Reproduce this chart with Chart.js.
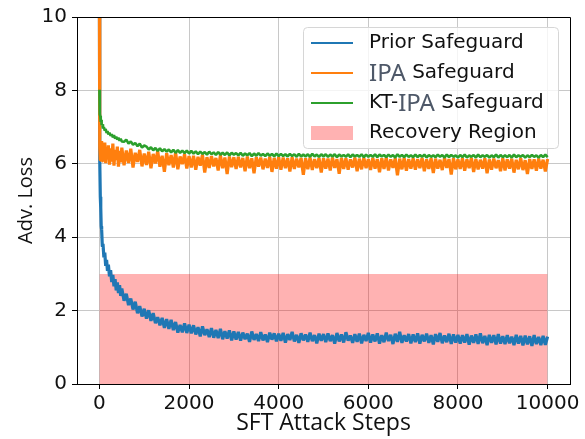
<!DOCTYPE html>
<html>
<head>
<meta charset="utf-8">
<script src="https://cdn.jsdelivr.net/npm/chart.js@4.4.1/dist/chart.umd.min.js"></script>
<style>
  html, body { margin: 0; padding: 0; background: #fff; }
  canvas { display: block; }
</style>
</head>
<body>
<canvas id="lossChart" width="585" height="439"></canvas>
<script>
// SFT attack steps (x positions)
var steps = [
  0, 5, 10, 20, 30, 40, 50, 65, 80, 100, 120, 140, 160, 180, 200, 225, 250, 275, 300, 325, 350, 375, 400, 425, 450, 475, 500,
  550, 600, 650, 700, 750, 800, 850, 900, 950, 1000,
  1050, 1100, 1150, 1200, 1250, 1300, 1350, 1400, 1450, 1500, 1550, 1600, 1650, 1700, 1750, 1800, 1850, 1900, 1950, 2000,
  2050, 2100, 2150, 2200, 2250, 2300, 2350, 2400, 2450, 2500, 2550, 2600, 2650, 2700, 2750, 2800, 2850, 2900, 2950, 3000,
  3050, 3100, 3150, 3200, 3250, 3300, 3350, 3400, 3450, 3500, 3550, 3600, 3650, 3700, 3750, 3800, 3850, 3900, 3950, 4000,
  4050, 4100, 4150, 4200, 4250, 4300, 4350, 4400, 4450, 4500, 4550, 4600, 4650, 4700, 4750, 4800, 4850, 4900, 4950, 5000,
  5050, 5100, 5150, 5200, 5250, 5300, 5350, 5400, 5450, 5500, 5550, 5600, 5650, 5700, 5750, 5800, 5850, 5900, 5950, 6000,
  6050, 6100, 6150, 6200, 6250, 6300, 6350, 6400, 6450, 6500, 6550, 6600, 6650, 6700, 6750, 6800, 6850, 6900, 6950, 7000,
  7050, 7100, 7150, 7200, 7250, 7300, 7350, 7400, 7450, 7500, 7550, 7600, 7650, 7700, 7750, 7800, 7850, 7900, 7950, 8000,
  8050, 8100, 8150, 8200, 8250, 8300, 8350, 8400, 8450, 8500, 8550, 8600, 8650, 8700, 8750, 8800, 8850, 8900, 8950, 9000,
  9050, 9100, 9150, 9200, 9250, 9300, 9350, 9400, 9450, 9500, 9550, 9600, 9650, 9700, 9750, 9800, 9850, 9900, 9950, 10000
];

// Prior Safeguard
var priorLoss = [
  10.8, 7.3, 6.1, 5.1, 4.8, 4.3, 4.2, 3.75, 3.82, 3.45, 3.58, 3.22, 3.38, 3.08, 3.25, 2.93, 3.1, 2.78, 2.97, 2.66, 2.86, 2.55, 2.77, 2.48, 2.69, 2.40, 2.60,
  2.27, 2.46, 2.15, 2.33, 2.03, 2.24, 1.93, 2.12, 1.84, 2.05,
  1.78, 2.01, 1.72, 1.93, 1.66, 1.82, 1.60, 1.80, 1.53, 1.77, 1.50, 1.75, 1.47, 1.69, 1.40, 1.61, 1.41, 1.65, 1.39, 1.62,
  1.38, 1.60, 1.35, 1.55, 1.30, 1.57, 1.33, 1.49, 1.28, 1.52, 1.26, 1.47, 1.25, 1.50, 1.22, 1.44, 1.24, 1.46, 1.19, 1.43,
  1.21, 1.42, 1.18, 1.40, 1.22, 1.37, 1.15, 1.43, 1.20, 1.36, 1.17, 1.41, 1.19, 1.35, 1.14, 1.40, 1.21, 1.38, 1.16, 1.37,
  1.18, 1.39, 1.13, 1.36, 1.20, 1.42, 1.16, 1.34, 1.12, 1.38, 1.19, 1.35, 1.15, 1.40, 1.17, 1.33, 1.11, 1.37, 1.18, 1.36,
  1.14, 1.38, 1.17, 1.33, 1.10, 1.39, 1.16, 1.35, 1.13, 1.41, 1.18, 1.32, 1.12, 1.36, 1.15, 1.37, 1.11, 1.34, 1.17, 1.39,
  1.13, 1.35, 1.16, 1.38, 1.10, 1.33, 1.14, 1.40, 1.17, 1.34, 1.09, 1.37, 1.15, 1.42, 1.12, 1.33, 1.16, 1.36, 1.11, 1.35,
  1.14, 1.38, 1.10, 1.34, 1.16, 1.37, 1.12, 1.33, 1.08, 1.36, 1.15, 1.39, 1.11, 1.32, 1.14, 1.37, 1.09, 1.35, 1.13, 1.34,
  1.10, 1.33, 1.13, 1.36, 1.07, 1.32, 1.12, 1.35, 1.09, 1.38, 1.11, 1.31, 1.06, 1.34, 1.12, 1.33, 1.08, 1.36, 1.10, 1.30,
  1.09, 1.33, 1.11, 1.29, 1.06, 1.34, 1.10, 1.31, 1.05, 1.32, 1.08, 1.30, 1.04, 1.33, 1.09, 1.28, 1.06, 1.31, 1.07, 1.29
];

// IPA Safeguard
var ipaLoss = [
  10.8, 7.6, 6.45, 6.1, 6.55, 6.2, 6.62, 6.08, 6.48, 6.15, 6.58, 6.02, 6.45, 6.12, 6.5, 5.98, 6.42, 6.06, 6.55, 5.95, 6.38, 6.1, 6.47, 5.92, 6.35, 6.04, 6.44,
  5.96, 6.36, 6.02, 6.41, 5.9, 6.3, 6.05, 6.38, 5.93, 6.28,
  5.97, 6.33, 5.88, 6.27, 6.01, 6.35, 5.92, 6.22, 5.78, 6.29, 5.96, 6.24, 5.90, 6.31, 5.85, 6.2, 5.99, 6.26, 5.87, 6.21,
  5.9, 6.22, 5.84, 6.19, 5.95, 6.25, 5.76, 6.18, 5.89, 6.21, 5.93, 6.16, 5.82, 6.23, 5.88, 6.17, 5.72, 6.2, 5.91, 6.18,
  5.86, 6.19, 5.9, 6.16, 5.8, 6.2, 5.88, 6.15, 5.74, 6.18, 5.92, 6.17, 5.85, 6.14, 5.89, 6.19, 5.78, 6.16, 5.87, 6.18,
  5.84, 6.17, 5.88, 6.15, 5.79, 6.18, 5.86, 6.14, 5.9, 6.16, 5.7, 6.15, 5.85, 6.17, 5.83, 6.13, 5.88, 6.16, 5.76, 6.15,
  5.87, 6.14, 5.82, 6.17, 5.89, 6.13, 5.73, 6.16, 5.86, 6.15, 5.84, 6.12, 5.9, 6.17, 5.8, 6.14, 5.85, 6.16, 5.88, 6.13,
  5.83, 6.16, 5.87, 6.13, 5.77, 6.15, 5.86, 6.17, 5.82, 6.12, 5.89, 6.15, 5.69, 6.14, 5.85, 6.16, 5.81, 6.13, 5.87, 6.15,
  5.84, 6.13, 5.88, 6.16, 5.8, 6.12, 5.86, 6.15, 5.75, 6.14, 5.87, 6.11, 5.83, 6.16, 5.89, 6.13, 5.71, 6.15, 5.85, 6.12,
  5.86, 6.15, 5.81, 6.12, 5.88, 6.16, 5.78, 6.13, 5.85, 6.11, 5.87, 6.15, 5.74, 6.12, 5.84, 6.14, 5.88, 6.1, 5.8, 6.15,
  5.82, 6.12, 5.87, 6.14, 5.76, 6.11, 5.85, 6.15, 5.83, 6.1, 5.72, 6.13, 5.86, 6.12, 5.81, 6.14, 5.87, 6.11, 5.79, 6.13
];

// KT-IPA Safeguard
var ktIpaLoss = [
  8.02, 7.6, 7.35, 7.3, 7.14, 7.2, 7.05, 7.08, 6.96, 7.0, 6.9, 6.95, 6.84, 6.89, 6.8, 6.85, 6.76, 6.81, 6.72, 6.78, 6.69, 6.74, 6.66, 6.71, 6.63, 6.68, 6.61,
  6.6, 6.66, 6.55, 6.61, 6.52, 6.57, 6.48, 6.55, 6.44, 6.5,
  6.47, 6.39, 6.45, 6.37, 6.43, 6.35, 6.42, 6.34, 6.4, 6.33, 6.39, 6.31, 6.38, 6.3, 6.37, 6.3, 6.36, 6.29, 6.36, 6.28,
  6.35, 6.28, 6.34, 6.26, 6.33, 6.27, 6.32, 6.25, 6.33, 6.26, 6.31, 6.24, 6.32, 6.25, 6.3, 6.24, 6.31, 6.23, 6.3, 6.25,
  6.29, 6.23, 6.3, 6.22, 6.28, 6.23, 6.29, 6.21, 6.28, 6.22, 6.29, 6.22, 6.27, 6.21, 6.28, 6.22, 6.27, 6.2, 6.28, 6.21,
  6.27, 6.21, 6.26, 6.2, 6.27, 6.21, 6.26, 6.19, 6.27, 6.2, 6.25, 6.2, 6.26, 6.19, 6.27, 6.2, 6.25, 6.19, 6.26, 6.2,
  6.26, 6.19, 6.25, 6.2, 6.26, 6.18, 6.25, 6.2, 6.24, 6.19, 6.26, 6.18, 6.25, 6.2, 6.24, 6.19, 6.26, 6.18, 6.25, 6.19,
  6.24, 6.19, 6.26, 6.18, 6.25, 6.2, 6.24, 6.18, 6.25, 6.19, 6.24, 6.17, 6.26, 6.19, 6.24, 6.18, 6.25, 6.19, 6.23, 6.18,
  6.25, 6.18, 6.24, 6.19, 6.25, 6.17, 6.24, 6.19, 6.23, 6.18, 6.25, 6.19, 6.24, 6.17, 6.25, 6.18, 6.24, 6.19, 6.23, 6.17,
  6.24, 6.18, 6.25, 6.17, 6.23, 6.19, 6.24, 6.17, 6.25, 6.18, 6.23, 6.19, 6.24, 6.17, 6.23, 6.18, 6.25, 6.17, 6.24, 6.18,
  6.23, 6.18, 6.24, 6.17, 6.25, 6.18, 6.23, 6.19, 6.24, 6.17, 6.23, 6.18, 6.24, 6.19, 6.23, 6.17, 6.24, 6.18, 6.25, 6.18
];

// recovery region: steps 0..10000, loss 0..3
var regionSteps = [0, 10000];
var regionTop = [3, 3];

var xTicks = [0, 2000, 4000, 6000, 8000, 10000];
var yTicks = [0, 2, 4, 6, 8, 10];

var toPoints = function (xs, ys) {
    return xs.map(function (x, i) { return { x: x, y: ys[i] }; });
};

// legend rows, "IPA" is set in another font / colour like in the figure
var legendRows = [
    { color: '#1f77b4', kind: 'line', parts: [['Prior Safeguard', 0]] },
    { color: '#ff7f0e', kind: 'line', parts: [['IPA', 1], [' Safeguard', 0]] },
    { color: '#2ca02c', kind: 'line', parts: [['KT-', 0], ['IPA', 1], [' Safeguard', 0]] },
    { color: 'rgba(255,0,0,0.3)', kind: 'patch', parts: [['Recovery Region', 0]] }
];

var framePlugin = {
    id: 'frame',
    afterDatasetsDraw: function (chart) {
        var a = chart.chartArea;
        var ctx = chart.ctx;
        ctx.save();
        ctx.strokeStyle = '#000';
        ctx.lineWidth = 1;
        ctx.beginPath();
        ctx.moveTo(Math.round(a.left) + 0.5, Math.round(a.top) + 0.5);
        ctx.lineTo(Math.round(a.right) + 0.5, Math.round(a.top) + 0.5);
        ctx.lineTo(Math.round(a.right) + 0.5, Math.round(a.bottom) + 0.5);
        ctx.stroke();
        ctx.restore();
    }
};

var legendPlugin = {
    id: 'boxLegend',
    afterDraw: function (chart) {
        var ctx = chart.ctx;
        var bx = 303, by = 27, bw = 255, bh = 121;
        ctx.save();
        ctx.beginPath();
        ctx.roundRect(bx + 0.5, by + 0.5, bw, bh, 4);
        ctx.fillStyle = 'rgba(255,255,255,0.8)';
        ctx.fill();
        ctx.strokeStyle = '#d6d6d6';
        ctx.lineWidth = 1;
        ctx.stroke();

        legendRows.forEach(function (row, i) {
            var cy = 43 + i * 30;
            if (row.kind === 'line') {
                ctx.strokeStyle = row.color;
                ctx.lineWidth = 2;
                ctx.beginPath();
                ctx.moveTo(311, cy);
                ctx.lineTo(353, cy);
                ctx.stroke();
            } else {
                ctx.fillStyle = row.color;
                ctx.fillRect(311, cy - 7, 42, 14);
            }
            var tx = 369;
            ctx.textBaseline = 'middle';
            row.parts.forEach(function (p) {
                if (p[1] === 1) {
                    ctx.font = '24px "Noto Sans"';
                    ctx.fillStyle = '#4e5868';
                    ctx.fillText(p[0], tx, cy + 1);
                } else {
                    ctx.font = '20px "DejaVu Sans"';
                    ctx.fillStyle = '#111';
                    ctx.fillText(p[0], tx, cy);
                }
                tx += ctx.measureText(p[0]).width;
            });
        });
        ctx.restore();
    }
};

var ctx = document.getElementById('lossChart');
var lossChart = new Chart(ctx, {
    type: 'line',
    data: {
        datasets: [
            {
                label: 'KT-IPA Safeguard',
                data: toPoints(steps, ktIpaLoss),
                borderColor: '#2ca02c',
                borderWidth: 2.6,
                borderJoinStyle: 'bevel',
                pointRadius: 0,
                fill: false,
                order: 1
            },
            {
                label: 'IPA Safeguard',
                data: toPoints(steps, ipaLoss),
                borderColor: '#ff7f0e',
                borderWidth: 3.2,
                borderJoinStyle: 'bevel',
                pointRadius: 0,
                fill: false,
                order: 2
            },
            {
                label: 'Prior Safeguard',
                data: toPoints(steps, priorLoss),
                borderColor: '#1f77b4',
                borderWidth: 3.2,
                borderJoinStyle: 'bevel',
                pointRadius: 0,
                fill: false,
                order: 3
            },
            {
                label: 'Recovery Region',
                data: toPoints(regionSteps, regionTop),
                borderWidth: 0,
                borderColor: 'rgba(0,0,0,0)',
                backgroundColor: 'rgba(255,0,0,0.3)',
                pointRadius: 0,
                fill: 'origin',
                order: 4
            }
        ]
    },
    options: {
        responsive: false,
        animation: false,
        events: [],
        layout: { padding: { left: 0, right: 15, top: 16, bottom: 0 } },
        plugins: {
            legend: { display: false },
            tooltip: { enabled: false }
        },
        scales: {
            x: {
                type: 'linear',
                min: -500,
                max: 10500,
                afterBuildTicks: function (scale) {
                    scale.ticks = xTicks.map(function (v) { return { value: v }; });
                },
                afterFit: function (scale) { scale.height = 55; },
                grid: { color: '#c8c8c8', tickColor: '#000', tickLength: 5 },
                border: { display: true, color: '#000', width: 1 },
                ticks: {
                    autoSkip: false,
                    maxRotation: 0,
                    padding: 3,
                    color: '#111',
                    font: { family: 'DejaVu Sans', size: 20 },
                    callback: function (v) { return String(v); }
                },
                title: {
                    display: true,
                    text: 'SFT Attack Steps',
                    color: '#111',
                    font: { family: 'Open Sans', size: 23 },
                    padding: { top: 0, bottom: 2 }
                }
            },
            y: {
                min: 0,
                max: 10,
                afterBuildTicks: function (scale) {
                    scale.ticks = yTicks.map(function (v) { return { value: v }; });
                },
                afterFit: function (scale) { scale.width = 77; },
                grid: { color: '#c8c8c8', tickColor: '#000', tickLength: 5 },
                border: { display: true, color: '#000', width: 1 },
                ticks: {
                    padding: 5,
                    color: '#111',
                    font: { family: 'DejaVu Sans', size: 20 }
                },
                title: {
                    display: true,
                    text: 'Adv. Loss',
                    color: '#111',
                    font: { family: 'Open Sans', size: 20 },
                    padding: { top: 14, bottom: 0 }
                }
            }
        }
    },
    plugins: [framePlugin, legendPlugin]
});
</script>
</body>
</html>
